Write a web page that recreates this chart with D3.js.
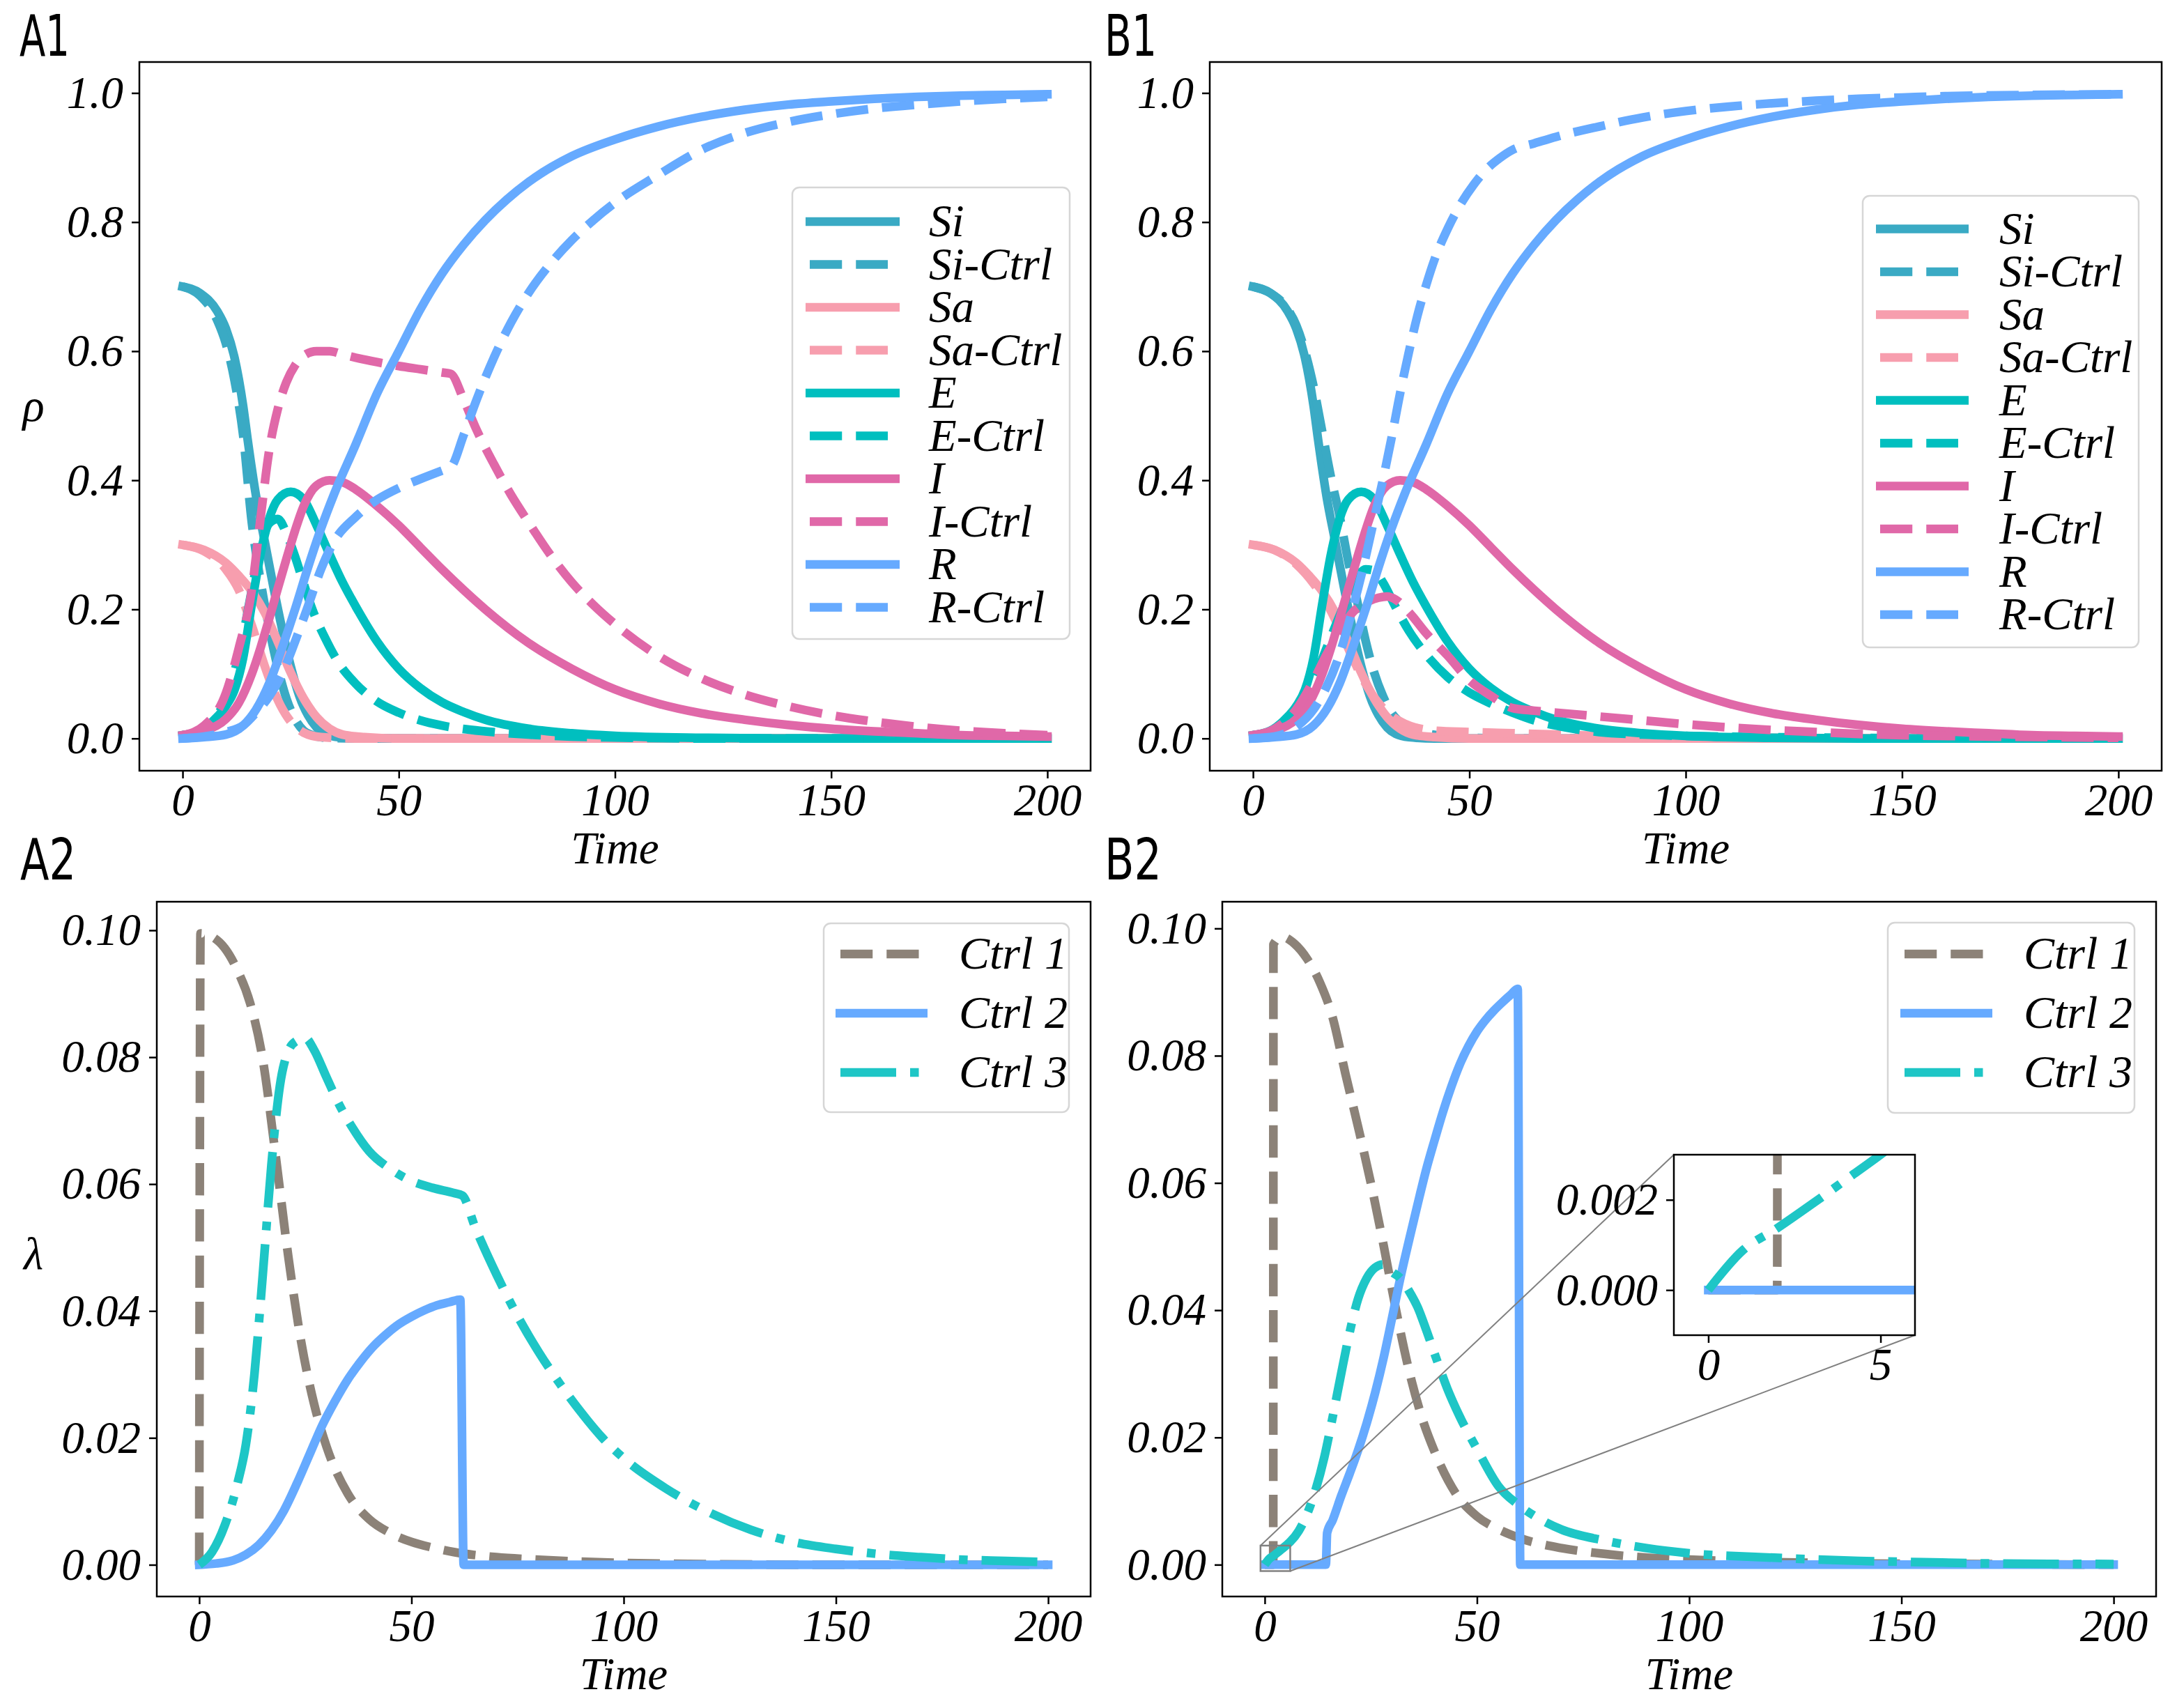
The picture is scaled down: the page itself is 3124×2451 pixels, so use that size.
<!DOCTYPE html>
<html>
<head>
<meta charset="utf-8">
<script src="https://cdn.jsdelivr.net/npm/d3@7"></script>
<style>
  body { margin: 0; background: #fff; }
</style>
</head>
<body>
<div id="wrapper"></div>
<script>

// 1. Data -- [time, value]

// uncontrolled model, same in A1 and B1
const siBase = [[0,.700],[4,.690],[8,.662],[10,.635],[12,.590],[14,.515],[15,.465],[17,.375],[19,.305],[21,.235],[23,.170],[25,.112],[27,.066],[29,.036],[31,.017],[33,.007],[36,.002],[42,0],[60,0],[200,0]]
const saBase = [[0,.300],[5,.292],[10,.272],[13,.252],[16,.228],[19,.195],[22,.150],[25,.102],[28,.062],[31,.033],[34,.015],[37,.006],[42,.002],[50,0],[200,0]]
const eBase = [[0,.005],[4,.012],[7,.027],[10,.050],[12,.075],[14,.125],[16,.208],[18,.285],[20,.340],[22,.370],[25,.382],[28,.370],[31,.330],[34,.285],[37,.242],[40,.205],[45,.150],[50,.108],[55,.078],[60,.056],[65,.041],[70,.029],[80,.015],[90,.008],[100,.004],[120,.001],[140,0],[200,0]]
const iBase = [[0,.005],[5,.012],[10,.030],[13,.055],[16,.100],[18,.140],[20,.185],[22,.232],[24,.278],[26,.322],[28,.360],[31,.392],[34,.400],[37,.397],[40,.386],[45,.360],[50,.330],[55,.296],[60,.262],[65,.230],[70,.200],[80,.148],[90,.108],[100,.076],[110,.054],[120,.039],[130,.029],[140,.021],[150,.015],[160,.011],[170,.008],[180,.005],[190,.004],[200,.003]]
const rBase = [[0,0],[5,.002],[10,.006],[14,.020],[17,.045],[20,.085],[23,.140],[26,.200],[29,.265],[32,.325],[35,.378],[40,.455],[45,.535],[50,.600],[55,.665],[60,.720],[65,.765],[70,.803],[75,.835],[80,.862],[90,.902],[100,.928],[110,.948],[120,.963],[130,.974],[140,.982],[150,.987],[160,.991],[170,.994],[180,.996],[190,.997],[200,.998]]

// controlled model, A1
const siCtrlA = [[0,.700],[4,.686],[8,.648],[10,.612],[12,.555],[14,.470],[16,.335],[18,.245],[20,.172],[22,.110],[24,.062],[26,.030],[28,.012],[30,.005],[33,.001],[40,0],[200,0]]
const saCtrlA = [[0,.300],[5,.290],[10,.262],[13,.230],[16,.175],[19,.112],[22,.060],[25,.026],[28,.009],[32,.002],[40,0],[200,0]]
const eCtrlA = [[0,.005],[4,.012],[8,.035],[11,.080],[14,.160],[16,.230],[18,.295],[20,.333],[22,.340],[24,.318],[26,.282],[28,.240],[30,.200],[33,.155],[36,.118],[40,.085],[45,.057],[50,.040],[55,.028],[60,.020],[70,.011],[80,.006],[90,.003],[100,.0015],[120,0],[200,0]]
const iCtrlA = [[0,.005],[5,.020],[10,.070],[13,.140],[16,.230],[18,.340],[20,.445],[22,.510],[24,.552],[26,.578],[28,.593],[31,.600],[34,.600],[37,.595],[40,.590],[45,.583],[50,.577],[55,.572],[60,.567],[62,.565],[65,.525],[68,.478],[72,.425],[76,.377],[80,.335],[85,.285],[90,.242],[95,.207],[100,.177],[110,.128],[120,.093],[130,.068],[140,.050],[150,.036],[160,.026],[170,.018],[180,.012],[190,.008],[200,.005]]
const rCtrlA = [[0,0],[5,.003],[10,.010],[14,.020],[17,.040],[20,.065],[23,.100],[26,.150],[29,.205],[32,.262],[35,.305],[40,.343],[45,.370],[50,.388],[55,.402],[60,.415],[62,.420],[65,.470],[68,.525],[72,.590],[76,.645],[80,.690],[85,.735],[90,.772],[95,.803],[100,.830],[110,.873],[120,.912],[130,.938],[140,.955],[150,.967],[160,.976],[170,.982],[180,.987],[190,.991],[200,.994]]

// controlled model, B1
const siCtrlB = [[0,.700],[4,.690],[8,.665],[10,.640],[12,.600],[14,.545],[16,.475],[18,.405],[20,.345],[22,.275],[24,.215],[26,.152],[28,.102],[30,.066],[32,.040],[35,.020],[40,.008],[45,.003],[50,.001],[60,0],[200,0]]
const saCtrlB = [[0,.300],[5,.292],[10,.270],[14,.240],[17,.210],[20,.170],[23,.125],[26,.085],[29,.055],[32,.035],[35,.023],[38,.016],[42,.012],[50,.010],[60,.008],[70,.006],[80,.004],[100,.002],[120,.001],[150,0],[200,0]]
const eCtrlB = [[0,.005],[5,.013],[10,.040],[14,.090],[17,.140],[20,.190],[23,.235],[26,.262],[28,.260],[30,.242],[33,.203],[36,.167],[40,.130],[45,.095],[50,.071],[55,.054],[60,.040],[65,.028],[70,.020],[75,.014],[80,.010],[90,.006],[100,.004],[120,.002],[140,.001],[160,0],[200,0]]
const iCtrlB = [[0,.005],[5,.015],[10,.045],[14,.090],[17,.130],[20,.165],[23,.195],[26,.210],[29,.218],[31,.220],[33,.215],[36,.196],[40,.163],[45,.128],[50,.090],[55,.066],[60,.047],[65,.043],[70,.040],[80,.034],[90,.028],[100,.022],[110,.017],[120,.013],[130,.010],[140,.007],[150,.005],[170,.003],[200,.001]]
const rCtrlB = [[0,0],[5,.003],[10,.018],[14,.045],[17,.080],[20,.130],[23,.200],[26,.280],[28,.340],[30,.400],[32,.465],[34,.535],[36,.598],[38,.655],[40,.702],[42,.743],[45,.790],[48,.828],[51,.858],[54,.882],[57,.899],[60,.912],[65,.922],[70,.932],[80,.948],[90,.962],[100,.972],[110,.979],[120,.984],[130,.988],[140,.991],[150,.993],[160,.995],[180,.997],[200,.998]]

// control signals, A2
const ctrl1A = [[0,0],[0.3,.0995],[3,.0990],[6,.0972],[9,.0937],[12,.0885],[15,.0795],[18,.0645],[21,.0485],[24,.0352],[27,.0255],[30,.0186],[35,.0112],[40,.0072],[45,.0050],[50,.0036],[55,.0027],[60,.0020],[70,.0012],[80,.0008],[90,.0005],[100,.0003],[120,.0001],[150,0],[200,0]]
const ctrl2A = [[0,0],[4,.0002],[8,.0007],[11,.0016],[14,.0031],[17,.0054],[20,.0086],[23,.0128],[26,.0174],[29,.0220],[32,.0258],[35,.0292],[38,.0320],[41,.0344],[44,.0363],[47,.0379],[50,.0391],[53,.0401],[56,.0409],[59,.0414],[61.5,.0418],[62.3,0],[200,0]]
const ctrl3A = [[0,0],[3,.0020],[6,.0062],[9,.0128],[11,.0190],[13,.0300],[15,.0460],[17,.0630],[19,.0755],[21,.0810],[23,.0826],[25,.0830],[27,.0812],[30,.0768],[33,.0725],[36,.0690],[40,.0652],[45,.0624],[50,.0605],[55,.0594],[60,.0586],[62,.0582],[65,.0532],[70,.0458],[75,.0392],[80,.0335],[85,.0285],[90,.0240],[95,.0200],[100,.0168],[110,.0120],[120,.0083],[130,.0055],[140,.0036],[150,.0025],[160,.0017],[170,.0012],[180,.0008],[190,.0006],[200,.0004]]

// control signals, B2
const ctrl1B = [[0,0],[2,0],[2.05,.0975],[4,.0987],[7,.0976],[10,.0952],[13,.0915],[16,.0860],[19,.0772],[22,.0688],[25,.0600],[28,.0502],[31,.0398],[34,.0305],[37,.0232],[40,.0178],[45,.0112],[50,.0076],[55,.0056],[60,.0042],[70,.0026],[80,.0017],[90,.0011],[100,.0008],[120,.0004],[140,.0002],[170,.0001],[200,0]]
const ctrl2B = [[0,0],[14.4,0],[14.7,.0050],[16,.0070],[18,.0108],[20,.0143],[22,.0180],[24,.0222],[26,.0270],[28,.0325],[30,.0388],[32,.0452],[34,.0510],[36,.0566],[38,.0620],[40,.0667],[42,.0712],[44,.0752],[46,.0787],[48,.0815],[50,.0838],[52,.0856],[54,.0871],[56,.0884],[58,.0896],[59.6,.0905],[60.2,0],[200,0]]
const ctrl3B = [[0,0],[1,.00088],[2,.00137],[3,.0019],[4,.00245],[5,.0030],[6,.0036],[8,.0053],[10,.0080],[12,.0118],[14,.0168],[16,.0232],[18,.0300],[20,.0365],[22,.0418],[24,.0450],[26,.0467],[28,.0472],[30,.0460],[32,.0450],[34,.0430],[36,.0405],[38,.0370],[40,.0332],[43,.0277],[46,.0232],[50,.0182],[55,.0124],[60,.0093],[65,.0071],[70,.0055],[80,.0038],[90,.0026],[100,.0018],[120,.0011],[140,.0006],[155,.0004],[170,.0002],[200,.0001]]

// tick values
const timeTicks = [0, 50, 100, 150, 200]
const rhoTicks = [0, 0.2, 0.4, 0.6, 0.8, 1.0]
const lambdaTicks = [0, 0.02, 0.04, 0.06, 0.08, 0.10]
const insetTimeTicks = [0, 5]
const insetLambdaTicks = [0, 0.002]

// 2. Styles and dimensions

const colors = {
  si: "#3aaac4",
  sa: "#f79eae",
  e: "#00bfbf",
  i: "#e068a8",
  r: "#66aaff",
  ctrl1: "#8c8278",
  ctrl2: "#66aaff",
  ctrl3: "#1ec6c6",
}
const lineWidth = 12.5
const dashed = "46.25,20"
const dashDot = "80,20,12.5,20"
const fontSize = 65

// pick a Times-like face if the machine has one, otherwise fall back
function pickSerif() {
  const ctx = document.createElement("canvas").getContext("2d")
  const probe = "Ctrl Time 0.123456789"
  ctx.font = "italic 40px monospace"
  const base = ctx.measureText(probe).width
  const names = ["Liberation Serif", "Tinos", "Times New Roman", "Times", "DejaVu Serif", "Noto Serif"]
  for (const name of names) {
    ctx.font = `italic 40px "${name}", monospace`
    if (Math.abs(ctx.measureText(probe).width - base) > 0.5) return `"${name}"`
  }
  return "serif"
}
const serif = `${pickSerif()}, serif`

const stateSeriesA = [
  { label: "Si", data: siBase, color: colors.si, dash: null },
  { label: "Si-Ctrl", data: siCtrlA, color: colors.si, dash: dashed },
  { label: "Sa", data: saBase, color: colors.sa, dash: null },
  { label: "Sa-Ctrl", data: saCtrlA, color: colors.sa, dash: dashed },
  { label: "E", data: eBase, color: colors.e, dash: null },
  { label: "E-Ctrl", data: eCtrlA, color: colors.e, dash: dashed },
  { label: "I", data: iBase, color: colors.i, dash: null },
  { label: "I-Ctrl", data: iCtrlA, color: colors.i, dash: dashed },
  { label: "R", data: rBase, color: colors.r, dash: null },
  { label: "R-Ctrl", data: rCtrlA, color: colors.r, dash: dashed },
]
const stateSeriesB = stateSeriesA.map(s => ({ ...s }))
stateSeriesB[1].data = siCtrlB
stateSeriesB[3].data = saCtrlB
stateSeriesB[5].data = eCtrlB
stateSeriesB[7].data = iCtrlB
stateSeriesB[9].data = rCtrlB

const ctrlSeriesA = [
  { label: "Ctrl 1", data: ctrl1A, color: colors.ctrl1, dash: dashed },
  { label: "Ctrl 2", data: ctrl2A, color: colors.ctrl2, dash: null },
  { label: "Ctrl 3", data: ctrl3A, color: colors.ctrl3, dash: dashDot },
]
const ctrlSeriesB = [
  { label: "Ctrl 1", data: ctrl1B, color: colors.ctrl1, dash: dashed },
  { label: "Ctrl 2", data: ctrl2B, color: colors.ctrl2, dash: null },
  { label: "Ctrl 3", data: ctrl3B, color: colors.ctrl3, dash: dashDot },
]

const panels = [
  { id: "A1", x0: 200, x1: 1565, y0: 89, y1: 1106, yDomain: [-0.05, 1.048],
    yTicks: rhoTicks, yFormat: d3.format(".1f"), yLabel: "ρ", yLabelDy: 6,
    series: stateSeriesA,
    legend: { x: 1137, y: 269, w: 398, h: 648, first: 49, step: 61.5,
              solid: [19, 154], dashed: [25, 137], text: 196, size: 65 },
    tag: { x: 28, y: 80, len: 72 } },
  { id: "B1", x0: 1736, x1: 3102, y0: 89, y1: 1106, yDomain: [-0.05, 1.048],
    yTicks: rhoTicks, yFormat: d3.format(".1f"), yLabel: null,
    series: stateSeriesB,
    legend: { x: 2673, y: 281, w: 396, h: 648, first: 47.5, step: 61.5,
              solid: [19, 152], dashed: [25, 137], text: 196, size: 65 },
    tag: { x: 1585, y: 80, len: 75 } },
  { id: "A2", x0: 225, x1: 1565, y0: 1294, y1: 2291, yDomain: [-0.005, 0.1045],
    yTicks: lambdaTicks, yFormat: d3.format(".2f"), yLabel: "λ", yLabelDy: 28,
    series: ctrlSeriesA,
    legend: { x: 1182, y: 1325, w: 352, h: 271, first: 44, step: 85,
              solid: [17, 149], dashed: [24, 136.5], text: 194, size: 66 },
    tag: { x: 29, y: 1262, len: 80 } },
  { id: "B2", x0: 1754, x1: 3094, y0: 1294, y1: 2291, yDomain: [-0.005, 0.1042],
    yTicks: lambdaTicks, yFormat: d3.format(".2f"), yLabel: null,
    series: ctrlSeriesB,
    legend: { x: 2709, y: 1324, w: 354, h: 273, first: 45, step: 85,
              solid: [18, 150], dashed: [24, 136.5], text: 195, size: 66 },
    tag: { x: 1585, y: 1262, len: 82 } },
]

const inset = { x0: 2402, x1: 2748, y0: 1657, y1: 1916,
                xDomain: [-1, 6], yDomain: [-0.001, 0.003] }

// 3. Draw canvas

const wrapper = d3.select("#wrapper")
  .append("svg")
    .attr("width", 3124)
    .attr("height", 2451)
    .style("display", "block")
    .style("background", "#fff")

const defs = wrapper.append("defs")

function serifText(sel, size) {
  return sel
    .style("font-family", serif)
    .style("font-style", "italic")
    .style("font-size", `${size}px`)
}

function styleAxis(g) {
  g.attr("font-family", null).attr("font-size", null)
  g.select(".domain").remove()
  g.selectAll(".tick line").attr("stroke", "#000").attr("stroke-width", 2.5)
  serifText(g.selectAll(".tick text").attr("fill", "#000"), fontSize)
}

function drawSeries(g, series, xScale, yScale) {
  const lineGenerator = d3.line()
    .x(d => xScale(d[0]))
    .y(d => yScale(d[1]))
    .curve(d3.curveMonotoneX)
  series.forEach(s => {
    g.append("path")
      .attr("d", lineGenerator(s.data))
      .attr("fill", "none")
      .attr("stroke", s.color)
      .attr("stroke-width", lineWidth)
      .attr("stroke-linejoin", "round")
      .attr("stroke-linecap", s.dash ? "butt" : "square")
      .attr("stroke-dasharray", s.dash)
  })
}

function drawLegend(g, series, lg) {
  g.append("rect")
    .attr("x", lg.x).attr("y", lg.y)
    .attr("width", lg.w).attr("height", lg.h)
    .attr("rx", 10)
    .attr("fill", "#fff").attr("fill-opacity", 0.8)
    .attr("stroke", "#d6d6d6").attr("stroke-width", 2.5)
  series.forEach((s, i) => {
    const cy = lg.y + lg.first + i * lg.step
    const ext = s.dash ? lg.dashed : lg.solid
    g.append("line")
      .attr("x1", lg.x + ext[0]).attr("x2", lg.x + ext[1])
      .attr("y1", cy).attr("y2", cy)
      .attr("stroke", s.color)
      .attr("stroke-width", lineWidth)
      .attr("stroke-dasharray", s.dash)
    serifText(g.append("text"), lg.size)
      .attr("x", lg.x + lg.text)
      .attr("y", cy + 21)
      .text(s.label)
  })
}

// 4. Panels

panels.forEach(p => {
  const xScale = d3.scaleLinear().domain([-10, 210]).range([p.x0, p.x1])
  const yScale = d3.scaleLinear().domain(p.yDomain).range([p.y1, p.y0])

  defs.append("clipPath").attr("id", `clip-${p.id}`)
    .append("rect")
      .attr("x", p.x0).attr("y", p.y0)
      .attr("width", p.x1 - p.x0).attr("height", p.y1 - p.y0)

  const bounds = wrapper.append("g")

  const lines = bounds.append("g").attr("clip-path", `url(#clip-${p.id})`)
  drawSeries(lines, p.series, xScale, yScale)

  // axes
  const xAxis = bounds.append("g")
    .attr("transform", `translate(0, ${p.y1})`)
    .call(d3.axisBottom(xScale).tickValues(timeTicks)
      .tickSize(11).tickPadding(7).tickSizeOuter(0))
  styleAxis(xAxis)

  const yAxis = bounds.append("g")
    .attr("transform", `translate(${p.x0}, 0)`)
    .call(d3.axisLeft(yScale).tickValues(p.yTicks).tickFormat(p.yFormat)
      .tickSize(11).tickPadding(12).tickSizeOuter(0))
  styleAxis(yAxis)

  bounds.append("rect")
    .attr("x", p.x0).attr("y", p.y0)
    .attr("width", p.x1 - p.x0).attr("height", p.y1 - p.y0)
    .attr("fill", "none").attr("stroke", "#000").attr("stroke-width", 2.5)

  // labels
  serifText(bounds.append("text"), fontSize)
    .attr("x", (p.x0 + p.x1) / 2)
    .attr("y", p.y1 + 133)
    .attr("text-anchor", "middle")
    .text("Time")

  if (p.yLabel) {
    serifText(bounds.append("text"), fontSize)
      .attr("x", 48)
      .attr("y", (p.y0 + p.y1) / 2 + p.yLabelDy)
      .attr("text-anchor", "middle")
      .text(p.yLabel)
  }

  bounds.append("text")
    .attr("x", p.tag.x).attr("y", p.tag.y)
    .style("font-family", "'DejaVu Sans', sans-serif")
    .style("font-size", "82px")
    .attr("textLength", p.tag.len)
    .attr("lengthAdjust", "spacingAndGlyphs")
    .text(p.id)

  drawLegend(bounds, p.series, p.legend)

  // zoomed inset in B2
  if (p.id === "B2") {
    const ix = d3.scaleLinear().domain(inset.xDomain).range([inset.x0, inset.x1])
    const iy = d3.scaleLinear().domain(inset.yDomain).range([inset.y1, inset.y0])

    const rx0 = xScale(inset.xDomain[0]), rx1 = xScale(inset.xDomain[1])
    const ry0 = yScale(inset.yDomain[1]), ry1 = yScale(inset.yDomain[0])
    bounds.append("rect")
      .attr("x", rx0).attr("y", ry0)
      .attr("width", rx1 - rx0).attr("height", ry1 - ry0)
      .attr("fill", "none").attr("stroke", "#808080").attr("stroke-width", 2.5)
    bounds.append("line")
      .attr("x1", inset.x0).attr("y1", inset.y0).attr("x2", rx0).attr("y2", ry0)
      .attr("stroke", "#808080").attr("stroke-width", 2)
    bounds.append("line")
      .attr("x1", inset.x1).attr("y1", inset.y1).attr("x2", rx1).attr("y2", ry1)
      .attr("stroke", "#808080").attr("stroke-width", 2)

    defs.append("clipPath").attr("id", "clip-inset")
      .append("rect")
        .attr("x", inset.x0).attr("y", inset.y0)
        .attr("width", inset.x1 - inset.x0).attr("height", inset.y1 - inset.y0)

    const insetG = bounds.append("g")
    insetG.append("rect")
      .attr("x", inset.x0).attr("y", inset.y0)
      .attr("width", inset.x1 - inset.x0).attr("height", inset.y1 - inset.y0)
      .attr("fill", "#fff")
    const insetLines = insetG.append("g").attr("clip-path", "url(#clip-inset)")
    drawSeries(insetLines, p.series, ix, iy)

    const ixAxis = insetG.append("g")
      .attr("transform", `translate(0, ${inset.y1})`)
      .call(d3.axisBottom(ix).tickValues(insetTimeTicks).tickFormat(d3.format("d"))
        .tickSize(11).tickPadding(7).tickSizeOuter(0))
    styleAxis(ixAxis)
    const iyAxis = insetG.append("g")
      .attr("transform", `translate(${inset.x0}, 0)`)
      .call(d3.axisLeft(iy).tickValues(insetLambdaTicks).tickFormat(d3.format(".3f"))
        .tickSize(11).tickPadding(12).tickSizeOuter(0))
    styleAxis(iyAxis)

    insetG.append("rect")
      .attr("x", inset.x0).attr("y", inset.y0)
      .attr("width", inset.x1 - inset.x0).attr("height", inset.y1 - inset.y0)
      .attr("fill", "none").attr("stroke", "#000").attr("stroke-width", 2.5)
  }
})

</script>
</body>
</html>
